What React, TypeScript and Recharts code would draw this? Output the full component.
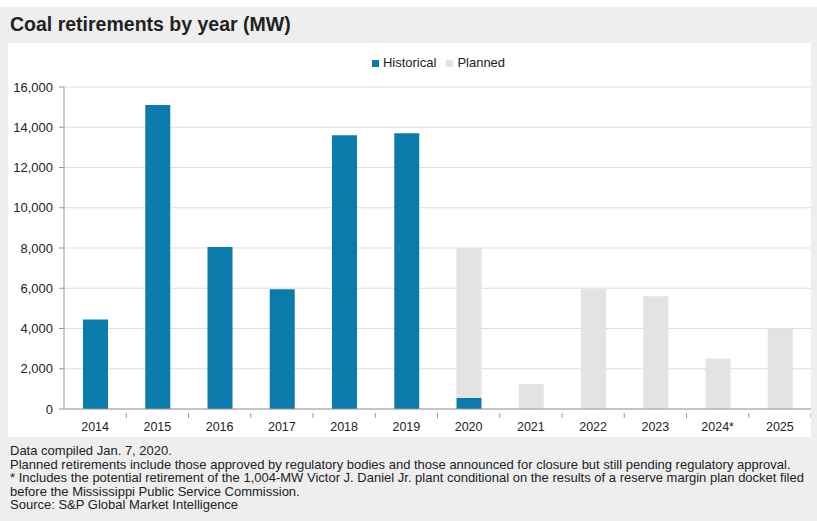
import React from 'react';
import { BarChart, Bar, XAxis, YAxis, CartesianGrid, Legend } from 'recharts';

const years = ['2014', '2015', '2016', '2017', '2018', '2019', '2020', '2021', '2022', '2023', '2024*', '2025'];
const historical = [4450, 15100, 8050, 5950, 13600, 13700, 550, null, null, null, null, null];
const planned = [null, null, null, null, null, null, 7450, 1250, 5950, 5600, 2500, 4000];
const yTicks = [0, 2000, 4000, 6000, 8000, 10000, 12000, 14000, 16000];

const notes = [
  'Data compiled Jan. 7, 2020.',
  'Planned retirements include those approved by regulatory bodies and those announced for closure but still pending regulatory approval.',
  '* Includes the potential retirement of the 1,004-MW Victor J. Daniel Jr. plant conditional on the results of a reserve margin plan docket filed',
  'before the Mississippi Public Service Commission.',
  'Source: S&P Global Market Intelligence',
];

const data = years.map((year, i) => ({
  year,
  Historical: historical[i],
  Planned: planned[i],
}));

const FONT = '"Liberation Sans", Arial, sans-serif';

const YearTick = (props: any) => {
  const { x, y, payload } = props;
  const half = payload.offset || 0;
  return (
    <g>
      <line x1={x + half} y1={y - 4} x2={x + half} y2={y + 1} stroke="#999" />
      <text x={x} y={y + 14} textAnchor="middle" fontSize={12.5} fill="#222" fontFamily={FONT}>
        {payload.value}
      </text>
    </g>
  );
};

const App = () => {
  return (
    <div style={{ width: 817, height: 521, background: '#fff', position: 'relative', fontFamily: FONT }}>
      <style>{'body{margin:0}'}</style>
      <div style={{ position: 'absolute', left: 0, top: 7, width: 817, height: 514, background: '#eeeeee' }} />
      <div style={{ position: 'absolute', left: 10, top: 13, fontSize: 19.5, fontWeight: 'bold', color: '#222' }}>
        Coal retirements by year (MW)
      </div>
      <div style={{ position: 'absolute', left: 8, top: 43, width: 803, height: 394, background: '#fff' }}>
        <BarChart
          width={803}
          height={394}
          data={data}
          margin={{ top: 12, right: 0, left: 0, bottom: 0 }}
          barSize={25}
        >
          <CartesianGrid vertical={false} stroke="#dddddd" />
          <Legend
            verticalAlign="top"
            align="center"
            iconType="square"
            iconSize={7}
            height={32}
            wrapperStyle={{ fontSize: 13, color: '#222', paddingLeft: 34 }}
            formatter={(value: string) => <span style={{ color: '#222' }}>{value}</span>}
          />
          <XAxis
            dataKey="year"
            tick={<YearTick />}
            tickLine={false}
            axisLine={{ stroke: '#999' }}
            height={28}
            interval={0}
          />
          <YAxis
            domain={[0, 16000]}
            ticks={yTicks}
            width={56}
            tickSize={5}
            tickMargin={6}
            tickLine={{ stroke: '#999' }}
            axisLine={{ stroke: '#999' }}
            tick={{ fontSize: 13, fill: '#222', fontFamily: FONT }}
            tickFormatter={(v: number) => v.toLocaleString('en-US')}
          />
          <Bar dataKey="Historical" stackId="a" fill="#0b7bab" isAnimationActive={false} />
          <Bar dataKey="Planned" stackId="a" fill="#e3e3e3" isAnimationActive={false} />
        </BarChart>
      </div>
      <div style={{ position: 'absolute', left: 10, top: 444, fontSize: 13, lineHeight: '13.5px', color: '#222', whiteSpace: 'nowrap' }}>
        {notes.map((n) => (
          <div key={n}>{n}</div>
        ))}
      </div>
    </div>
  );
};

export default App;
